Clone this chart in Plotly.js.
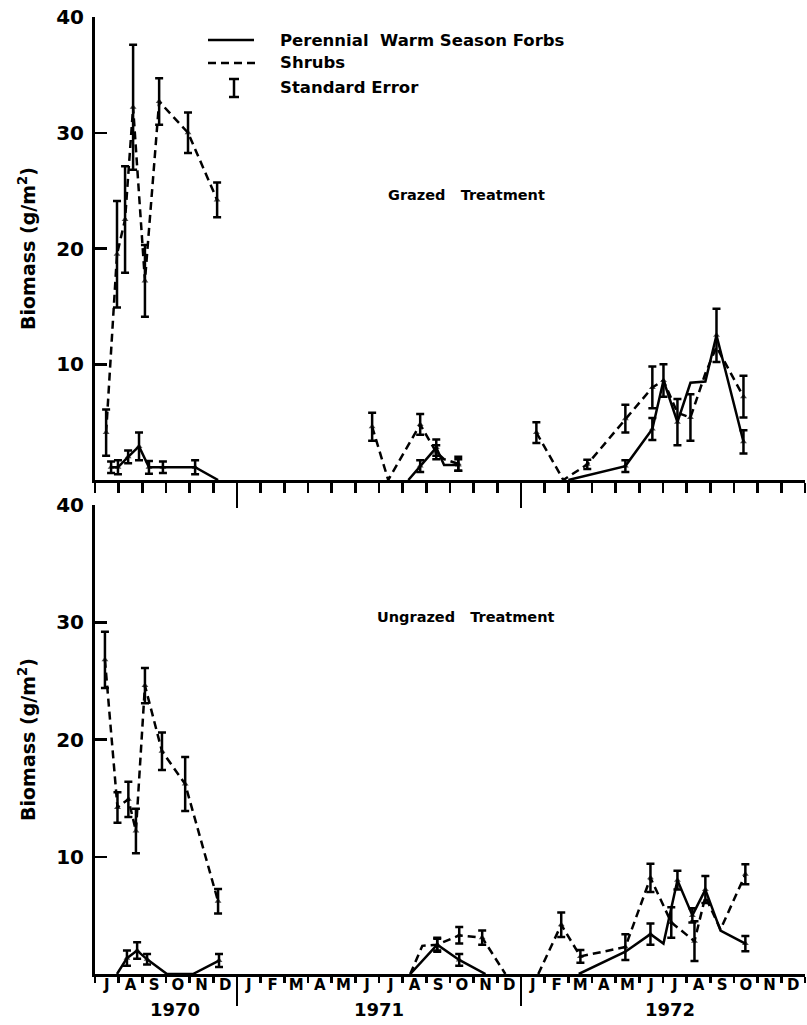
<!DOCTYPE html>
<html>
<head>
<meta charset="utf-8">
<script src="https://cdn.plot.ly/plotly-3.0.1.min.js"></script>
<style>
  html, body { margin: 0; padding: 0; background: #fff; }
  #chart { width: 807px; height: 1025px; }
</style>
</head>
<body>
<div id="chart"></div>
<script>
// Time axis: months elapsed since 1 July 1970 (0 = start of July 1970, 30 = end of Dec 1972).
// null entries break a line between sampling seasons.

// Grazed treatment - perennial warm season forbs
const grazedForbsMonth = [0.68, 0.97, 1.40, 1.86, 2.28, 2.87, 4.23, 5.20, null,
  13.24, 13.74, 14.42, 14.75, 15.35, null,
  20.00, 22.41, 23.55, 24.02, 24.61, 25.16, 25.79, 26.26, 27.40];
const grazedForbsValue = [1.1, 1.1, 2.0, 2.9, 1.1, 1.1, 1.1, 0, null,
  0, 1.2, 2.8, 1.3, 1.3, null,
  0, 1.2, 4.4, 8.6, 5.0, 8.4, 8.5, 12.5, 3.3];
const grazedForbsSE = [0.5, 0.6, 0.55, 1.2, 0.55, 0.5, 0.6, null, null,
  null, 0.5, 0.7, null, 0.5, null,
  null, 0.5, 0.95, 1.4, 2.0, null, null, 2.3, 1.0];

// Grazed treatment - shrubs
const grazedShrubsMonth = [0.47, 0.93, 1.27, 1.61, 2.11, 2.71, 3.93, 5.16, null,
  11.71, 12.39, 13.74, 14.42, 14.75, 15.35, null,
  18.65, 19.79, 20.80, 22.41, 23.55, 24.02, 24.61, 25.16, 25.79, 26.26, 27.40];
const grazedShrubsValue = [4.1, 19.5, 22.5, 32.2, 17.2, 32.7, 30.0, 24.2, null,
  4.6, 0, 4.8, 2.4, 1.8, 1.4, null,
  4.1, 0, 1.35, 5.3, 8.0, 8.6, 5.8, 5.4, 9.2, 11.5, 7.2];
const grazedShrubsSE = [2.0, 4.6, 4.6, 5.4, 3.1, 2.0, 1.75, 1.5, null,
  1.2, null, 0.9, 0.6, null, 0.6, null,
  0.9, null, 0.4, 1.2, 1.8, null, null, 2.0, null, null, 1.8];

// Ungrazed treatment - perennial warm season forbs
const ungrazedForbsMonth = [0.93, 1.35, 1.78, 2.20, 3.04, 4.14, 5.24, null,
  13.32, 14.46, 15.39, 16.50, null,
  20.44, 22.41, 23.47, 24.02, 24.61, 25.24, 25.79, 26.43, 27.48];
const ungrazedForbsValue = [0, 1.35, 2.0, 1.25, 0, 0, 1.15, null,
  0, 2.5, 1.2, 0, null,
  0, 1.9, 3.4, 2.6, 8.0, 5.0, 7.2, 3.7, 2.6];
const ungrazedForbsSE = [null, 0.65, 0.7, 0.45, null, null, 0.55, null,
  null, 0.5, 0.5, null, null,
  null, null, 0.9, null, 0.8, 0.6, 1.15, null, 0.65];

// Ungrazed treatment - shrubs
const ungrazedShrubsMonth = [0.42, 0.95, 1.41, 1.73, 2.11, 2.83, 3.81, 5.20, null,
  13.32, 13.83, 14.46, 15.39, 16.36, 17.34, null,
  18.73, 19.70, 20.51, 22.41, 23.47, 24.35, 25.33, 25.79, 26.43, 27.48];
const ungrazedShrubsValue = [26.8, 14.2, 14.9, 12.2, 24.6, 19.0, 16.2, 6.2, null,
  0, 2.4, 2.5, 3.3, 3.1, 0, null,
  0, 4.2, 1.5, 2.3, 8.2, 4.4, 2.8, 6.6, 3.8, 8.5];
const ungrazedShrubsSE = [2.4, 1.3, 1.5, 1.9, 1.5, 1.6, 2.3, 1.05, null,
  null, null, 0.6, 0.7, 0.6, null, null,
  null, 1.05, 0.55, 1.1, 1.2, 1.3, 1.7, null, null, 0.85];

// Month initials, July 1970 through December 1972
const monthLetters = ['J','A','S','O','N','D',
  'J','F','M','A','M','J','J','A','S','O','N','D',
  'J','F','M','A','M','J','J','A','S','O','N','D'];
const yearLabels = ['1970', '1971', '1972'];
const yTicks = [10, 20, 30, 40];

const FONT = 'DejaVu Sans, Liberation Sans, sans-serif';
const INK = '#000';
const DASH = '8px,5px';

function series(xa, ya, months, values, se, dashed) {
  return {
    type: 'scatter', mode: 'lines+markers', xaxis: xa, yaxis: ya,
    x: months, y: values, connectgaps: false, hoverinfo: 'skip', showlegend: false,
    line: { color: INK, width: 2.5, dash: dashed ? DASH : 'solid' },
    marker: { symbol: 'triangle-up', color: INK, line: { width: 0 },
              size: se.map(s => s == null ? 0 : 6) },
    error_y: { type: 'data', visible: true, array: se.map(s => s == null ? NaN : s),
               color: INK, thickness: 2.5, width: 4 }
  };
}

const traces = [
  series('x', 'y', grazedShrubsMonth, grazedShrubsValue, grazedShrubsSE, true),
  series('x', 'y', grazedForbsMonth, grazedForbsValue, grazedForbsSE, false),
  series('x2', 'y2', ungrazedShrubsMonth, ungrazedShrubsValue, ungrazedShrubsSE, true),
  series('x2', 'y2', ungrazedForbsMonth, ungrazedForbsValue, ungrazedForbsSE, false),
  // carrier for the month-letter axis
  { type: 'scatter', mode: 'markers', x: [0.5], y: [null], xaxis: 'x3', yaxis: 'y2',
    hoverinfo: 'skip', showlegend: false }
];

// plot area spans x 95..805 px and y 17..974 px
const PX = px => (px - 95) / 710;
const PY = py => (974 - py) / 957;

const timeAxis = (anchor, majorLen, minorLen) => ({
  anchor: anchor, domain: [0, 1], range: [0, 30],
  showline: true, linewidth: 3, linecolor: INK,
  ticks: 'outside', tickvals: [6, 18], ticklen: majorLen, tickwidth: 2.5, tickcolor: INK,
  minor: { tick0: 0, dtick: 1, ticks: 'outside', ticklen: minorLen, tickwidth: 2.5, tickcolor: INK },
  showticklabels: false, showgrid: false, zeroline: false, fixedrange: true
});

const biomassAxis = (anchor, domain) => ({
  anchor: anchor, domain: domain, range: [0, 40],
  showline: true, linewidth: 3, linecolor: INK,
  ticks: 'inside', tickvals: yTicks, ticklen: 12, tickwidth: 2.5, tickcolor: INK,
  tickfont: { family: FONT, size: 20, color: INK, weight: 'bold' },
  ticklabelstandoff: 4,
  title: { text: 'Biomass (g/m<sup>2</sup>)', standoff: 16,
           font: { family: FONT, size: 19, color: INK, weight: 'bold' } },
  showgrid: false, zeroline: false, fixedrange: true
});

const boldText = size => ({ family: FONT, size: size, color: INK, weight: 'bold' });

const annotations = [
  { xref: 'paper', yref: 'paper', x: PX(278), y: PY(40), xanchor: 'left', yanchor: 'middle',
    text: 'Perennial\u00a0 Warm Season Forbs', showarrow: false, font: boldText(16.5) },
  { xref: 'paper', yref: 'paper', x: PX(278), y: PY(63), xanchor: 'left', yanchor: 'middle',
    text: 'Shrubs', showarrow: false, font: boldText(16.5) },
  { xref: 'paper', yref: 'paper', x: PX(278), y: PY(88), xanchor: 'left', yanchor: 'middle',
    text: 'Standard Error', showarrow: false, font: boldText(16.5) },
  { xref: 'paper', yref: 'paper', x: PX(466), y: PY(195), xanchor: 'center', yanchor: 'middle',
    text: 'Grazed\u00a0\u00a0 Treatment', showarrow: false, font: boldText(14.5) },
  { xref: 'paper', yref: 'paper', x: PX(465), y: PY(617), xanchor: 'center', yanchor: 'middle',
    text: 'Ungrazed\u00a0\u00a0 Treatment', showarrow: false, font: boldText(14.5) }
];
const yearCenters = [3.4, 12.0, 24.3];
yearLabels.forEach((t, i) => annotations.push({
  xref: 'x2', yref: 'paper', x: yearCenters[i], y: PY(1009), xanchor: 'center', yanchor: 'middle',
  text: t, showarrow: false, font: { family: FONT, size: 18, color: INK, weight: 'bold' }
}));

const shapes = [
  { type: 'line', xref: 'paper', yref: 'paper', x0: PX(208), x1: PX(254), y0: PY(40), y1: PY(40),
    line: { color: INK, width: 2.5 } },
  { type: 'line', xref: 'paper', yref: 'paper', x0: PX(208), x1: PX(256), y0: PY(63), y1: PY(63),
    line: { color: INK, width: 2.5, dash: DASH } },
  { type: 'line', xref: 'paper', yref: 'paper', x0: PX(234), x1: PX(234), y0: PY(79), y1: PY(97),
    line: { color: INK, width: 2.5 } },
  { type: 'line', xref: 'paper', yref: 'paper', x0: PX(229), x1: PX(239), y0: PY(79), y1: PY(79),
    line: { color: INK, width: 2.5 } },
  { type: 'line', xref: 'paper', yref: 'paper', x0: PX(229), x1: PX(239), y0: PY(97), y1: PY(97),
    line: { color: INK, width: 2.5 } }
];

const layout = {
  width: 807, height: 1025,
  margin: { l: 95, r: 2, t: 17, b: 51 },
  paper_bgcolor: '#fff', plot_bgcolor: '#fff',
  showlegend: false,
  font: { family: FONT, color: INK },
  xaxis: timeAxis('y', 25, 10),
  yaxis: biomassAxis('x', [PY(480), 1]),
  xaxis2: timeAxis('y2', 29, 6),
  yaxis2: biomassAxis('x2', [0, PY(505)]),
  xaxis3: {
    overlaying: 'x2', anchor: 'y2', side: 'bottom', range: [0, 30],
    tickmode: 'array', tickvals: monthLetters.map((_, i) => i + 0.5), ticktext: monthLetters,
    ticks: '', ticklabelstandoff: 0, showline: false, showgrid: false, zeroline: false,
    tickfont: { family: FONT, size: 15, color: INK, weight: 'bold' }, fixedrange: true
  },
  annotations: annotations,
  shapes: shapes
};

Plotly.newPlot('chart', traces, layout, { staticPlot: true, displayModeBar: false });
</script>
</body>
</html>
